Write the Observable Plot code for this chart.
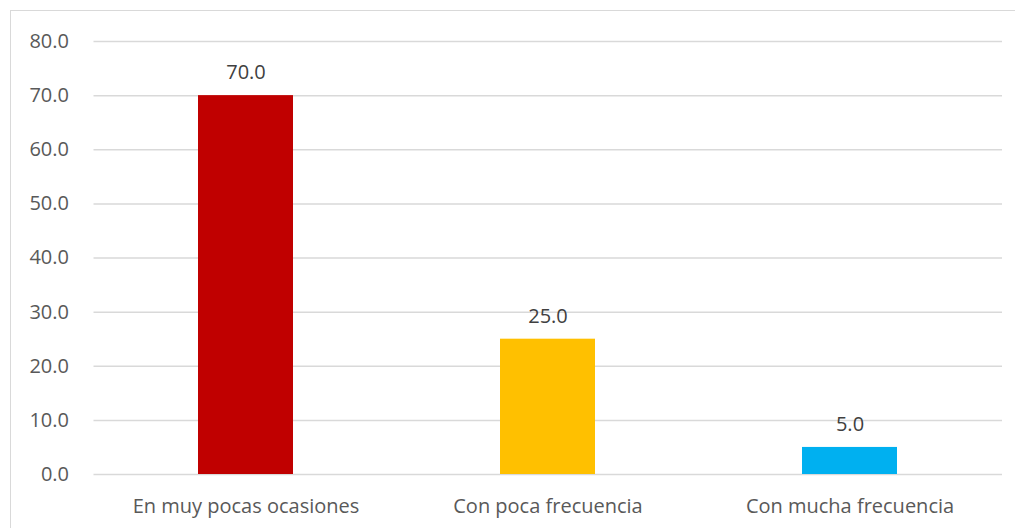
<!DOCTYPE html>
<html>
<head>
<meta charset="utf-8">
<script src="https://cdn.jsdelivr.net/npm/d3@7"></script>
<script src="https://cdn.jsdelivr.net/npm/@observablehq/plot@0.6"></script>
<style>
  html, body { margin: 0; padding: 0; background: #fff; overflow: hidden; }
  #wrap { position: relative; width: 1015px; height: 528px; }
  #frame { position: absolute; left: 10px; top: 10px; width: 1020px; height: 540px; border: 1.5px solid #d9d9d9; box-sizing: border-box; }
  #chart { position: absolute; left: 0; top: 0; }
</style>
</head>
<body>
<div id="wrap"><div id="frame"></div><div id="chart"></div></div>
<script>
const categories = ["En muy pocas ocasiones", "Con poca frecuencia", "Con mucha frecuencia"];
const values = [70.0, 25.0, 5.0];
const colors = ["#C00000", "#FFC000", "#00B0F0"];
const yTicks = [0, 10, 20, 30, 40, 50, 60, 70, 80];

const data = categories.map((c, i) => ({category: c, value: values[i]}));
const font = "'Open Sans', sans-serif";

const chart = Plot.plot({
  width: 1015,
  height: 528,
  marginLeft: 93.5,
  marginRight: 13,
  marginTop: 41,
  marginBottom: 54,
  style: {fontFamily: font, fontSize: "20px", color: "#595959", background: "transparent"},
  x: {domain: categories, paddingInner: 0.685, paddingOuter: 0.3425, label: null, tickSize: 0, tickPadding: 24},
  y: {domain: [0, 80], ticks: yTicks, tickFormat: d => d.toFixed(1), label: null, tickSize: 0, tickPadding: 25},
  color: {domain: categories, range: colors},
  marks: [
    Plot.ruleY(yTicks, {stroke: "#d9d9d9", strokeWidth: 1.5}),
    Plot.barY(data, {x: "category", y: "value", fill: "category"}),
    Plot.text(data, {x: "category", y: "value", text: d => d.value.toFixed(1), dy: -23, fill: "#404040", fontSize: 20})
  ]
});
document.getElementById("chart").appendChild(chart);
</script>
</body>
</html>
